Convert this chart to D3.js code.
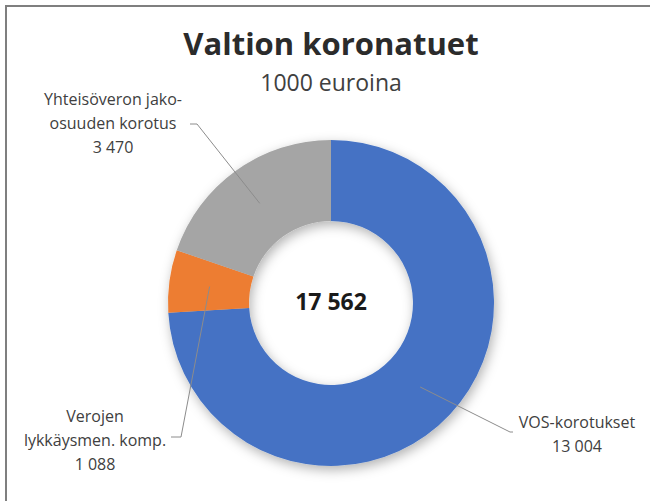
<!DOCTYPE html>
<html>
<head>
<meta charset="utf-8">
<script src="https://cdn.jsdelivr.net/npm/d3@7"></script>
<style>
  body { margin: 0; background: #fff; }
  text { font-family: "Open Sans", "Noto Sans", sans-serif; }
</style>
</head>
<body>
<div id="chart"></div>
<script>
/* Valtion koronatuet - donut */

const categories = ["VOS-korotukset", "Verojen lykkäysmen. komp.", "Yhteisöveron jako-osuuden korotus"];
const values = [13004, 1088, 3470];
const labelLines = [
    ["VOS-korotukset", "13 004"],
    ["Verojen", "lykkäysmen. komp.", "1 088"],
    ["Yhteisöveron jako-", "osuuden korotus", "3 470"]
];
const colors = ["#4472c4", "#ed7d31", "#a5a5a5"];
const totalLabel = "17 562";

const width = 650,
    height = 501,
    cx = 331, cy = 303,
    outerR = 163, innerR = 82;

// where the label blocks sit + leader line start (layout only)
const labelPos = [
    { x: 577, y: 428, lead: [[513, 432], [510, 432]] },
    { x: 95, y: 422, lead: [[171, 437], [181, 437]] },
    { x: 113, y: 105, lead: [[190, 124], [197, 124]] }
];

const svg = d3.select("#chart")
    .append("svg")
    .attr("width", width)
    .attr("height", height)
    .attr("viewBox", [0, 0, width, height]);

// frame
svg.append("rect")
    .attr("x", 6).attr("y", 6)
    .attr("width", 700).attr("height", 600)
    .attr("fill", "none")
    .attr("stroke", "#7f7f7f")
    .attr("stroke-width", 2);

const defs = svg.append("defs");
const f = defs.append("filter").attr("id", "shadow")
    .attr("x", "-20%").attr("y", "-20%").attr("width", "140%").attr("height", "140%");
f.append("feDropShadow")
    .attr("dx", 2).attr("dy", 4)
    .attr("stdDeviation", 6)
    .attr("flood-color", "#000")
    .attr("flood-opacity", 0.3);

svg.append("text")
    .attr("x", cx).attr("y", 55)
    .attr("text-anchor", "middle")
    .attr("font-size", 31)
    .attr("font-weight", "bold")
    .attr("fill", "#2b2b2b")
    .text("Valtion koronatuet");

svg.append("text")
    .attr("x", cx).attr("y", 91)
    .attr("text-anchor", "middle")
    .attr("font-size", 23)
    .attr("fill", "#404040")
    .text("1000 euroina");

const pie = d3.pie().sort(null).value(d => d);
const arcs = pie(values);

const arc = d3.arc().innerRadius(innerR).outerRadius(outerR);
const mid = d3.arc().innerRadius((innerR + outerR) / 2).outerRadius((innerR + outerR) / 2);

const g = svg.append("g").attr("transform", `translate(${cx},${cy})`);

g.append("g")
    .attr("filter", "url(#shadow)")
    .selectAll("path")
    .data(arcs)
    .join("path")
    .attr("d", arc)
    .attr("fill", (d, i) => colors[i]);

g.append("text")
    .attr("y", 7)
    .attr("text-anchor", "middle")
    .attr("font-size", 23)
    .attr("font-weight", "bold")
    .attr("fill", "#1a1a1a")
    .text(totalLabel);

// leader lines
arcs.forEach((d, i) => {
    const c = mid.centroid(d);
    const pts = labelPos[i].lead.concat([[c[0] + cx, c[1] + cy]]);
    svg.append("path")
        .attr("d", d3.line()(pts))
        .attr("fill", "none")
        .attr("stroke", "#8c8c8c")
        .attr("stroke-width", 1);
});

// labels
labelLines.forEach((lines, i) => {
    const t = svg.append("text")
        .attr("text-anchor", "middle")
        .attr("font-size", 16)
        .attr("fill", "#404040");
    lines.forEach((l, j) => {
        t.append("tspan")
            .attr("x", labelPos[i].x)
            .attr("y", labelPos[i].y + j * 24)
            .text(l);
    });
});
</script>
</body>
</html>
